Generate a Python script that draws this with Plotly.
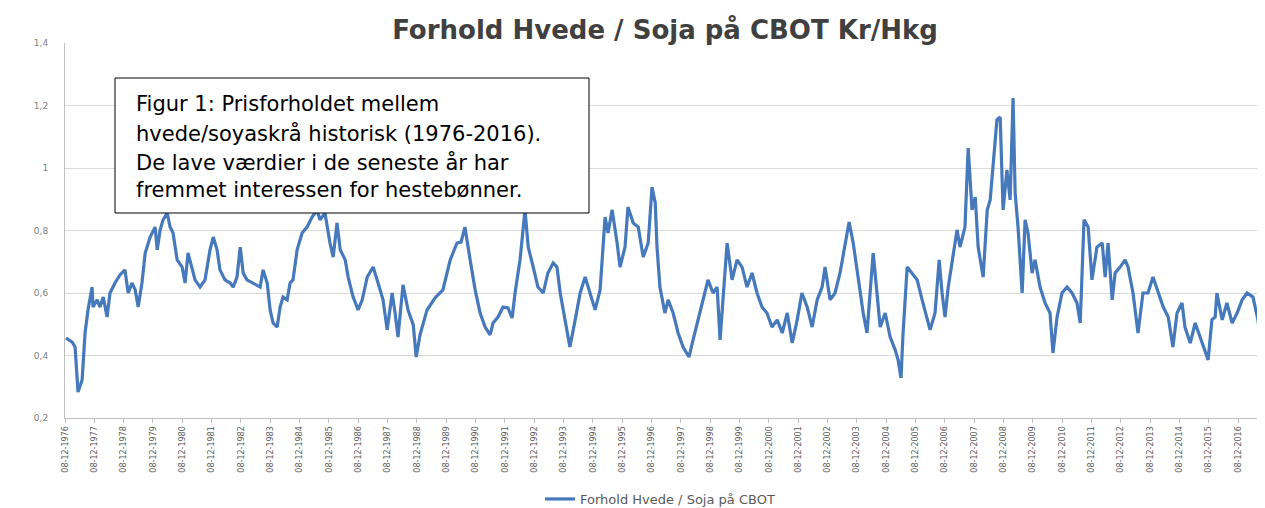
import plotly.graph_objects as go

# ---- data (decimal years, ratio wheat/soy) ----
years = [1976.97,1977.18,1977.28,1977.38,1977.52,1977.62,1977.72,1977.86,1977.89,1978.03,
         1978.13,1978.24,1978.37,1978.47,1978.64,1978.81,1978.98,1979.09,1979.22,1979.33,
         1979.43,1979.56,1979.67,1979.84,1980.01,1980.08,1980.18,1980.28,1980.42,1980.52,
         1980.62,1980.76,1980.93,1981.03,1981.13,1981.27,1981.37,1981.54,1981.71,1981.88,
         1981.99,1982.12,1982.22,1982.39,1982.57,1982.67,1982.80,1982.91,1983.01,1983.14,
         1983.35,1983.59,1983.69,1983.83,1983.93,1984.03,1984.17,1984.27,1984.37,1984.51,
         1984.61,1984.71,1984.85,1985.02,1985.19,1985.36,1985.53,1985.63,1985.80,1985.97,
         1986.08,1986.21,1986.32,1986.49,1986.59,1986.76,1986.93,1987.07,1987.24,1987.44,
         1987.61,1987.78,1987.92,1988.09,1988.19,1988.29,1988.46,1988.63,1988.81,1988.91,
         1989.04,1989.28,1989.55,1989.82,1990.07,1990.30,1990.44,1990.57,1990.75,1990.92,
         1991.09,1991.26,1991.43,1991.53,1991.70,1991.87,1992.04,1992.18,1992.28,1992.45,
         1992.62,1992.73,1992.90,1993.06,1993.24,1993.40,1993.58,1993.71,1993.82,1993.99,
         1994.15,1994.33,1994.50,1994.67,1994.84,1995.01,1995.18,1995.35,1995.45,1995.59,
         1995.76,1995.86,1996.03,1996.13,1996.31,1996.48,1996.65,1996.82,1996.95,1997.06,
         1997.12,1997.22,1997.39,1997.50,1997.67,1997.84,1998.01,1998.21,1998.35,1998.52,
         1998.69,1998.86,1999.03,1999.17,1999.27,1999.38,1999.51,1999.68,1999.85,2000.02,
         2000.19,2000.36,2000.53,2000.70,2000.87,2001.04,2001.22,2001.39,2001.56,2001.73,
         2001.90,2002.06,2002.24,2002.41,2002.58,2002.75,2002.85,2003.02,2003.19,2003.36,
         2003.53,2003.67,2003.81,2003.98,2004.15,2004.28,2004.39,2004.49,2004.62,2004.73,
         2004.90,2005.07,2005.24,2005.34,2005.44,2005.51,2005.65,2005.82,2005.99,2006.16,
         2006.33,2006.43,2006.60,2006.74,2006.84,2006.94,2007.05,2007.18,2007.35,2007.45,
         2007.62,2007.73,2007.86,2007.97,2008.07,2008.24,2008.38,2008.48,2008.58,2008.71,
         2008.82,2008.92,2009.05,2009.16,2009.26,2009.33,2009.43,2009.57,2009.67,2009.77,
         2009.91,2010.01,2010.18,2010.35,2010.52,2010.62,2010.76,2010.93,2011.10,2011.27,
         2011.44,2011.55,2011.68,2011.82,2011.95,2012.12,2012.30,2012.40,2012.50,2012.64,
         2012.74,2012.91,2013.08,2013.18,2013.35,2013.52,2013.69,2013.86,2014.03,2014.21,
         2014.38,2014.55,2014.71,2014.85,2015.02,2015.12,2015.30,2015.47,2015.64,2015.81,
         2015.91,2016.04,2016.15,2016.21,2016.39,2016.55,2016.73,2016.90,2017.07,2017.24,
         2017.44,2017.61,2017.75,2017.82]

ratio = [0.456,0.443,0.427,0.283,0.322,0.472,0.546,0.619,0.555,0.578,
         0.555,0.587,0.523,0.600,0.632,0.658,0.674,0.600,0.632,0.610,
         0.555,0.632,0.728,0.779,0.811,0.738,0.802,0.834,0.856,0.811,
         0.792,0.706,0.683,0.632,0.728,0.683,0.642,0.619,0.642,0.738,
         0.779,0.738,0.674,0.642,0.632,0.619,0.651,0.747,0.664,0.642,
         0.632,0.619,0.674,0.632,0.546,0.504,0.491,0.555,0.587,0.578,
         0.632,0.642,0.738,0.792,0.811,0.843,0.866,0.834,0.856,0.760,
         0.715,0.824,0.738,0.706,0.651,0.587,0.546,0.578,0.651,0.683,
         0.632,0.578,0.482,0.600,0.536,0.459,0.626,0.546,0.498,0.395,
         0.466,0.546,0.584,0.610,0.706,0.760,0.763,0.811,0.706,0.610,
         0.536,0.491,0.466,0.504,0.523,0.555,0.552,0.520,0.600,0.706,
         0.866,0.747,0.683,0.619,0.600,0.664,0.696,0.683,0.600,0.504,
         0.427,0.514,0.600,0.651,0.600,0.546,0.610,0.843,0.792,0.866,
         0.760,0.683,0.747,0.875,0.824,0.811,0.715,0.760,0.939,0.888,
         0.747,0.619,0.536,0.578,0.536,0.472,0.427,0.395,0.450,0.514,
         0.578,0.642,0.600,0.619,0.450,0.600,0.760,0.642,0.706,0.683,
         0.619,0.664,0.600,0.555,0.536,0.491,0.514,0.472,0.536,0.440,
         0.514,0.600,0.555,0.491,0.578,0.619,0.683,0.578,0.600,0.664,
         0.747,0.827,0.760,0.651,0.536,0.472,0.600,0.728,0.600,0.491,
         0.536,0.459,0.418,0.386,0.328,0.472,0.683,0.664,0.642,0.578,
         0.523,0.482,0.536,0.706,0.600,0.523,0.619,0.706,0.802,0.747,
         0.811,1.064,0.866,0.907,0.747,0.651,0.866,0.898,1.003,1.154,
         1.163,0.866,0.994,0.898,1.224,0.920,0.811,0.600,0.834,0.792,
         0.664,0.706,0.619,0.568,0.536,0.408,0.523,0.600,0.619,0.600,
         0.568,0.504,0.834,0.811,0.642,0.747,0.760,0.651,0.760,0.578,
         0.664,0.683,0.706,0.683,0.600,0.472,0.600,0.600,0.651,0.600,
         0.555,0.523,0.427,0.536,0.568,0.491,0.440,0.504,0.459,0.408,
         0.386,0.514,0.523,0.600,0.514,0.568,0.504,0.536,0.578,0.600,
         0.587,0.514,0.386,0.344]

tick_years = list(range(1976, 2017))
tick_labels = ["08-12-%d" % y for y in tick_years]
tick_pos = [y + 0.936 for y in tick_years]

series_name = "Forhold Hvede / Soja på CBOT"
title_text = "Forhold Hvede / Soja på CBOT Kr/Hkg"
note_lines = ["Figur 1: Prisforholdet mellem",
              "hvede/soyaskrå historisk (1976-2016).",
              "De lave værdier i de seneste år har",
              "fremmet interessen for hestebønner."]

fig = go.Figure()
fig.add_trace(go.Scatter(x=years, y=ratio, mode="lines", name=series_name,
                         line=dict(color="#4579bb", width=3.2)))

# The page body adds an 8px offset; work in screenshot pixels and subtract it.
OFF = 8
W, H = 1265 - OFF, 508 - OFF
L, R, T, B = 65 - OFF, 0, 43 - OFF, 508 - 418
pw, ph = W - L - R, H - T - B

def px(x):
    return (x - OFF - L) / pw

def py(y):
    return (H - B - (y - OFF)) / ph

fig.update_layout(
    width=W, height=H,
    margin=dict(l=L, r=R, t=T, b=B, autoexpand=False),
    paper_bgcolor="white", plot_bgcolor="white",
    separators=", ",
    title=dict(text="<b>" + title_text + "</b>", x=(665 - OFF) / W, xanchor="center",
               y=1 - (30 - OFF) / H, yanchor="middle",
               font=dict(family="DejaVu Sans", size=26, color="#404040")),
    showlegend=True,
    legend=dict(orientation="h", x=px(660), xanchor="center", y=py(499), yanchor="middle",
                font=dict(family="DejaVu Sans", size=13, color="#595959"),
                bgcolor="rgba(0,0,0,0)"),
    xaxis=dict(range=[1976.936, 1976.936 + pw / 29.33], tickmode="array",
               tickvals=tick_pos, ticktext=tick_labels, tickangle=-90, automargin=False,
               tickfont=dict(family="DejaVu Sans", size=8, color="#595959"),
               showgrid=False, zeroline=False, showline=True, linecolor="#bfbfbf",
               ticks="outside", ticklen=4, tickcolor="#bfbfbf"),
    yaxis=dict(range=[0.2, 1.4], dtick=0.2, tick0=0.2, automargin=False,
               tickfont=dict(family="DejaVu Sans", size=9, color="#7f7f7f"),
               showgrid=True, gridcolor="#d9d9d9", gridwidth=1, zeroline=False,
               showline=True, linecolor="#bfbfbf", ticklabelstandoff=14),
)

fig.add_shape(type="rect", xref="paper", yref="paper",
              x0=px(115), x1=px(589), y0=py(213), y1=py(78),
              line=dict(color="black", width=1), fillcolor="white", layer="above")

for line, yc in zip(note_lines, [104, 133, 162, 190]):
    fig.add_annotation(text=line, xref="paper", yref="paper", x=px(134), y=py(yc),
                       xanchor="left", yanchor="middle", showarrow=False,
                       font=dict(family="DejaVu Sans", size=21, color="black"))

fig.write_html("out.html")
